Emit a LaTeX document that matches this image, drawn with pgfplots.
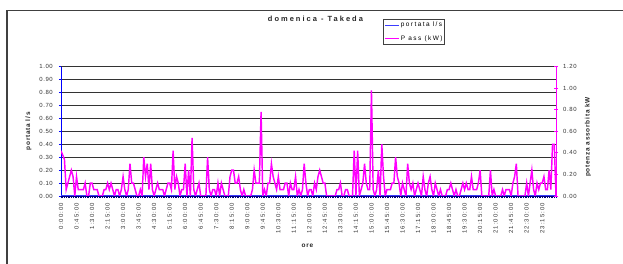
\documentclass[border=0pt]{standalone}
\usepackage{fontspec}
\setmainfont{Liberation Sans}
\usepackage{pgfplots}
\pgfplotsset{compat=1.18}
\definecolor{mag}{RGB}{255,0,255}
\definecolor{navy}{RGB}{0,0,128}
\definecolor{lblue}{RGB}{60,60,255}
\newcommand\tickfont{\fontsize{6}{7}\selectfont\addfontfeature{LetterSpace=10}}
\newcommand\xtickfont{\fontsize{6}{7}\selectfont\addfontfeature{LetterSpace=17}}
\newcommand\labelfont{\fontsize{6.5}{7}\selectfont\bfseries\addfontfeature{LetterSpace=12}}
\newcommand\titlefont{\fontsize{7.5}{8}\selectfont\bfseries\addfontfeature{LetterSpace=27}}
\newcommand\legfont{\fontsize{6.5}{7}\selectfont\addfontfeature{LetterSpace=22}}
\pgfplotstableread{
i v
0 0.42
1 0.38
2 0.34
3 0.06
4 0.12
5 0.18
6 0.24
7 0.18
8 0
9 0.18
10 0.06
11 0.06
12 0.06
13 0.06
14 0.12
15 0
16 0
17 0.12
18 0.12
19 0.06
20 0.06
21 0.06
22 0
23 0
24 0
25 0.06
26 0.06
27 0.12
28 0.06
29 0.12
30 0.06
31 0
32 0.06
33 0.06
34 0
35 0.06
36 0.18
37 0.06
38 0
39 0.06
40 0.30
41 0.12
42 0.12
43 0.06
44 0
45 0
46 0.06
47 0
48 0.36
49 0.18
50 0.30
51 0.06
52 0.30
53 0.06
54 0
55 0.06
56 0.12
57 0.06
58 0.06
59 0.06
60 0
61 0.06
62 0.12
63 0.12
64 0.06
65 0.42
66 0.06
67 0.18
68 0.12
69 0
70 0.06
71 0.06
72 0.30
73 0
74 0.24
75 0
76 0.54
77 0.06
78 0
79 0.06
80 0.12
81 0
82 0
83 0
84 0
85 0.36
86 0.06
87 0
88 0.06
89 0.06
90 0
91 0.12
92 0
93 0.12
94 0.06
95 0
96 0
97 0
98 0.18
99 0.24
100 0.24
101 0.12
102 0.12
103 0.18
104 0.06
105 0
106 0.06
107 0
108 0
109 0
110 0
111 0.06
112 0.24
113 0.12
114 0.12
115 0.12
116 0.78
117 0
118 0.06
119 0
120 0.12
121 0.12
122 0.30
123 0.18
124 0.12
125 0.06
126 0.18
127 0.06
128 0.06
129 0.06
130 0.12
131 0.12
132 0
133 0.12
134 0.06
135 0.06
136 0.18
137 0
138 0.06
139 0
140 0.06
141 0.30
142 0.12
143 0
144 0.06
145 0.06
146 0
147 0.12
148 0.06
149 0.18
150 0.24
151 0.18
152 0.12
153 0.12
154 0
155 0
156 0
157 0
158 0
159 0
160 0.06
161 0.06
162 0.12
163 0
164 0
165 0.06
166 0.06
167 0
168 0
169 0
170 0.42
171 0
172 0.42
173 0
174 0.06
175 0.12
176 0.30
177 0.12
178 0.06
179 0.06
180 0.98
181 0.06
182 0
183 0.06
184 0.24
185 0
186 0.48
187 0.18
188 0
189 0.06
190 0.06
191 0.06
192 0.12
193 0.12
194 0.36
195 0.18
196 0.12
197 0
198 0.12
199 0.06
200 0
201 0.30
202 0.12
203 0.06
204 0.12
205 0
206 0.06
207 0.12
208 0.06
209 0
210 0.18
211 0.06
212 0
213 0.12
214 0.18
215 0.06
216 0
217 0.12
218 0.06
219 0
220 0.06
221 0
222 0
223 0
224 0.06
225 0.06
226 0.12
227 0.06
228 0
229 0.06
230 0
231 0
232 0.06
233 0.12
234 0.06
235 0.12
236 0.06
237 0.06
238 0.18
239 0.06
240 0.06
241 0.06
242 0.12
243 0.24
244 0
245 0
246 0
247 0
248 0
249 0.24
250 0
251 0.06
252 0
253 0
254 0
255 0
256 0.06
257 0
258 0.06
259 0.06
260 0.06
261 0
262 0.12
263 0.18
264 0.30
265 0
266 0
267 0
268 0
269 0
270 0.12
271 0
272 0.12
273 0.24
274 0.06
275 0
276 0.12
277 0.06
278 0.12
279 0.12
280 0.18
281 0.06
282 0.06
283 0.24
284 0.06
285 0.48
286 0.48
287 0
}\pass
\begin{document}
\begin{tikzpicture}
\path[use as bounding box] (0,0) rectangle (623bp,264bp);
\draw[line width=1.6bp, black!75] (6.8bp,-3bp) -- (6.8bp,253.6bp) -- (630bp,253.6bp);
\begin{axis}[
  at={(61bp,68bp)}, anchor=south west,
  width=495bp, height=129.3bp, scale only axis,
  xmin=0, xmax=287, ymin=0, ymax=1,
  axis y line*=left, axis x line*=bottom,
  y axis line style={-, blue, line width=0.9bp},
  x axis line style={-, navy, line width=1bp},
  xtick={0,9,...,279},
  xticklabels={0:00:00,0:45:00,1:30:00,2:15:00,3:00:00,3:45:00,4:30:00,5:15:00,6:00:00,6:45:00,7:30:00,8:15:00,9:00:00,9:45:00,10:30:00,11:15:00,12:00:00,12:45:00,13:30:00,14:15:00,15:00:00,15:45:00,16:30:00,17:15:00,18:00:00,18:45:00,19:30:00,20:15:00,21:00:00,21:45:00,22:30:00,23:15:00},
  minor xtick={0,1,...,287},
  tick align=outside, major tick length=2bp, minor tick length=2bp,
  x tick style={navy, line width=0.45bp},
  y tick style={blue, line width=0.6bp},
  ytick={0,0.1,0.2,0.3,0.4,0.5,0.6,0.7,0.8,0.9,1},
  ymajorgrids, major grid style={black!80, line width=0.75bp},
  xticklabel style={rotate=90, anchor=east, inner sep=0pt, font=\xtickfont, text=black!80},
  xticklabel shift=5bp,
  yticklabel style={anchor=east, inner sep=0pt, font=\tickfont, text=black!80},
  yticklabel shift=6bp,
  yticklabel={\pgfmathprintnumber[fixed,fixed zerofill,precision=2,assume math mode=true]{\tick}},
  xlabel={ore}, xlabel style={at={(rel axis cs:0.498,-0.383)}, anchor=center, font=\labelfont, text=black!85},
  ylabel={portata l/s}, ylabel style={at={(rel axis cs:-0.0657,0.5)}, anchor=center, font=\labelfont, text=black!85},
  title={domenica - Takeda}, title style={at={(rel axis cs:0.514,1.3225)}, anchor=center, font=\titlefont, text=black!85},
  legend style={at={(rel axis cs:0.6505,1.371)}, anchor=north west, draw=black!75, line width=0.9bp, font=\legfont, inner xsep=1bp, inner ysep=2bp, row sep=5bp, cells={anchor=west}, nodes={inner sep=1bp}},
  legend image code/.code={\draw[#1] (0bp,0bp) -- (14bp,0bp);},
]
\addplot[color=lblue, line width=1.1bp] coordinates {(0,0) (287,0)};
\addlegendentry{portata l/s}
\addlegendimage{color=mag, line width=1.45bp}
\addlegendentry{P ass (kW)}
\end{axis}
\begin{axis}[
  at={(61bp,68bp)}, anchor=south west,
  width=495bp, height=129.3bp, scale only axis,
  xmin=0, xmax=287, ymin=0, ymax=1.2,
  axis y line*=right, axis x line=none,
  y axis line style={-, mag, line width=1bp},
  ytick={0,0.2,0.4,0.6,0.8,1.0,1.2},
  y tick style={mag, line width=0.8bp},
  major tick length=4bp, tick align=center,
  yticklabel style={anchor=west, inner sep=0pt, font=\tickfont, text=black!80},
  yticklabel shift=5bp,
  yticklabel={\pgfmathprintnumber[fixed,fixed zerofill,precision=2,assume math mode=true]{\tick}},
  ylabel={potenza assorbita kW}, ylabel style={at={(rel axis cs:1.0646,0.456)}, anchor=center, font=\labelfont, text=black!85},
]
\addplot[color=mag, line width=1.45bp] table[x=i, y=v] {\pass};
\end{axis}
\end{tikzpicture}
\end{document}
